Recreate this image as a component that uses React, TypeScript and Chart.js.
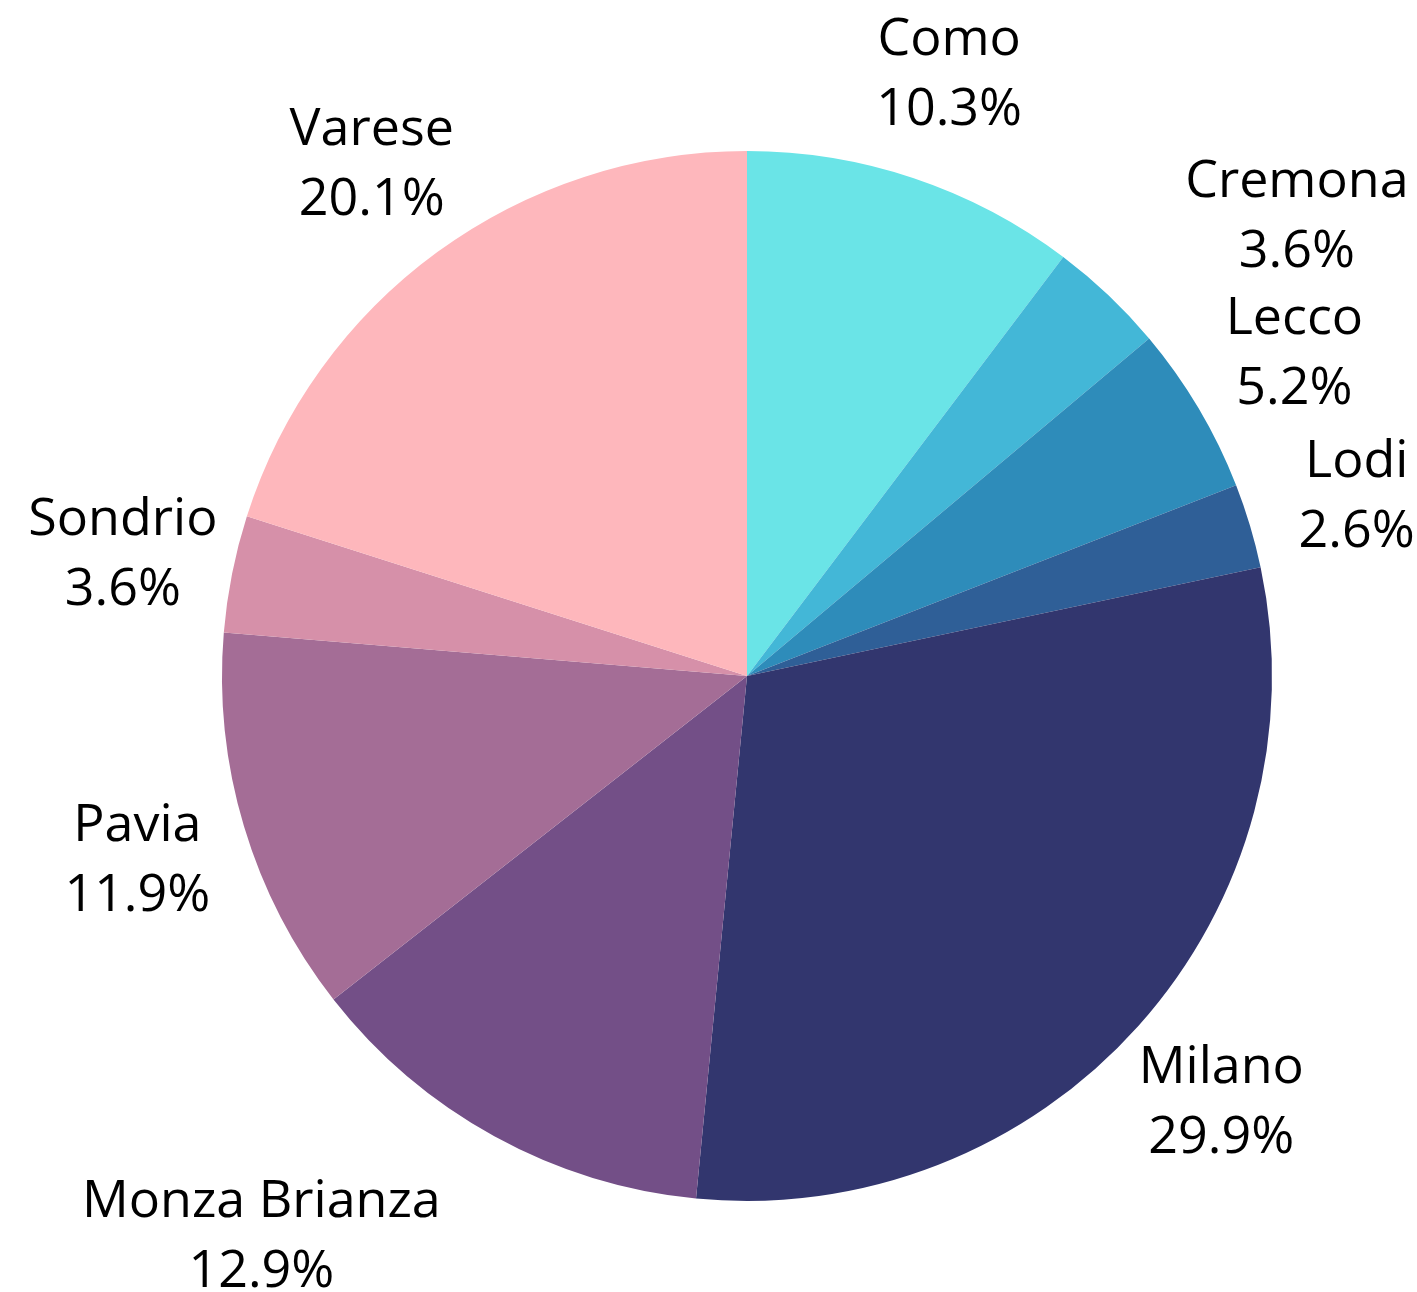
import React, { useEffect, useRef } from "react";
import { Chart, registerables } from "chart.js";

Chart.register(...registerables);

const categories = ["Como", "Cremona", "Lecco", "Lodi", "Milano", "Monza Brianza", "Pavia", "Sondrio", "Varese"];
const shares = [10.3, 3.6, 5.2, 2.6, 29.9, 12.9, 11.9, 3.6, 20.1];
const sliceColors = ["#6ae4e7", "#43b7d7", "#2e8cba", "#2f5f97", "#32366e", "#734f87", "#a46d96", "#d690a9", "#feb7bc"];
const labelAlign: string[] = ["center", "left", "center", "center", "center", "right", "center", "center", "center"];

const W = 1417;
const H = 1292;
const FONT_SIZE = 52;
const LINE_GAP = 35;
const TEXT_Y_SHIFT = 3;
const LABEL_RADIUS_RATIO = 1.212;

const outsideLabels = {
  id: "outsideLabels",
  afterDraw(chart: any) {
    const ctx = chart.ctx;
    const meta = chart.getDatasetMeta(0);
    ctx.save();
    ctx.fillStyle = "#000";
    ctx.font = `${FONT_SIZE}px "Open Sans"`;
    ctx.textBaseline = "middle";
    ctx.textAlign = "center";
    meta.data.forEach((arc: any, i: number) => {
      const p = arc.getProps(["x", "y", "startAngle", "endAngle", "outerRadius"], true);
      const mid = (p.startAngle + p.endAngle) / 2;
      const r = p.outerRadius * LABEL_RADIUS_RATIO;
      let x = p.x + Math.cos(mid) * r;
      const y = p.y + Math.sin(mid) * r + TEXT_Y_SHIFT;
      const line1 = categories[i];
      const line2 = shares[i].toFixed(1) + "%";
      const bw = Math.max(ctx.measureText(line1).width, ctx.measureText(line2).width);
      if (labelAlign[i] === "left") x += bw / 2;
      if (labelAlign[i] === "right") x -= bw / 2;
      ctx.fillText(line1, x, y - LINE_GAP);
      ctx.fillText(line2, x, y + LINE_GAP);
    });
    ctx.restore();
  },
};

export default function App() {
  const ref = useRef<HTMLCanvasElement | null>(null);
  useEffect(() => {
    document.body.style.margin = "0";
    if (!ref.current) return;
    const chart = new Chart(ref.current, {
      type: "pie",
      data: {
        labels: categories,
        datasets: [
          {
            data: shares,
            backgroundColor: sliceColors,
            borderWidth: 0,
          },
        ],
      },
      options: {
        responsive: false,
        animation: false,
        layout: { padding: { left: 222, right: 145, top: 151, bottom: 91 } },
        plugins: { legend: { display: false }, tooltip: { enabled: false } },
      },
      plugins: [outsideLabels],
    });
    return () => chart.destroy();
  }, []);
  return (
    <div style={{ width: W, height: H, background: "#fff" }}>
      <canvas ref={ref} width={W} height={H} style={{ display: "block" }} />
    </div>
  );
}
